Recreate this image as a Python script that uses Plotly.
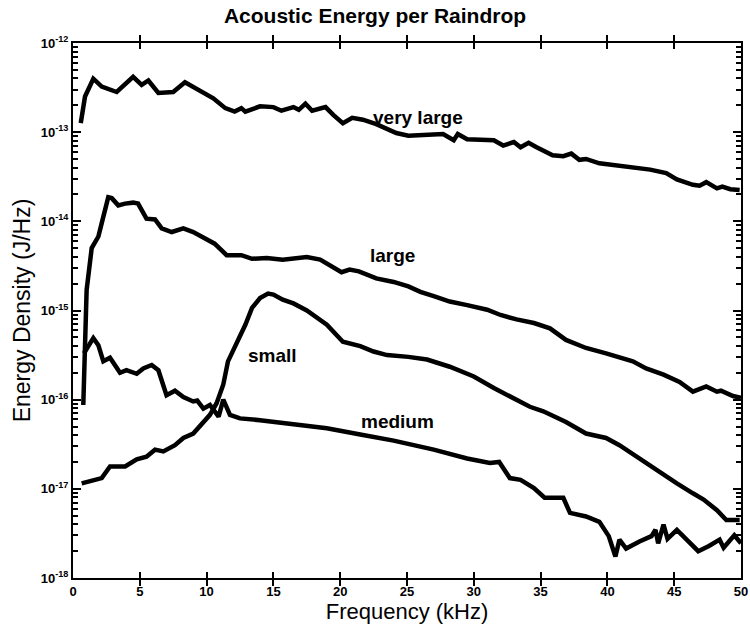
import numpy as np
import plotly.graph_objects as go

# Acoustic energy spectra per raindrop size class (frequency in kHz, energy density in J/Hz)
very_large_f = [0.58, 0.9, 1.52, 2.15, 3.27, 4.5, 5.14, 5.64, 6.39, 7.5, 8.38, 9.5, 10.5, 11.4,
                12.1, 12.6, 12.9, 14.0, 15.0, 15.6, 16.5, 16.9, 17.4, 17.9, 18.9, 19.5, 20.2,
                20.9, 21.7, 22.7, 23.5, 24.2, 25.1, 26.5, 27.7, 28.5, 28.8, 29.5, 31.5, 32.2,
                33.0, 33.5, 34.1, 34.7, 35.9, 36.7, 37.3, 37.9, 38.4, 39.4, 40.7, 41.9, 43.2,
                44.4, 45.2, 46.4, 46.9, 47.4, 48.2, 48.6, 49.2, 49.9]
very_large_e = [1.26e-13, 2.51e-13, 3.98e-13, 3.24e-13, 2.82e-13, 4.17e-13, 3.39e-13, 3.80e-13,
                2.75e-13, 2.82e-13, 3.63e-13, 2.95e-13, 2.40e-13, 1.86e-13, 1.70e-13, 1.86e-13,
                1.70e-13, 1.95e-13, 1.91e-13, 1.74e-13, 1.91e-13, 1.78e-13, 2.09e-13, 1.74e-13,
                1.91e-13, 1.55e-13, 1.26e-13, 1.45e-13, 1.38e-13, 1.23e-13, 1.10e-13, 9.77e-14,
                9.12e-14, 9.33e-14, 9.55e-14, 8.13e-14, 9.55e-14, 8.32e-14, 8.13e-14, 7.08e-14,
                7.76e-14, 6.76e-14, 7.59e-14, 6.76e-14, 5.50e-14, 5.37e-14, 5.75e-14, 4.90e-14,
                5.01e-14, 4.47e-14, 4.27e-14, 3.98e-14, 3.80e-14, 3.47e-14, 2.95e-14, 2.57e-14,
                2.51e-14, 2.75e-14, 2.34e-14, 2.45e-14, 2.29e-14, 2.24e-14]

large_f = [0.77, 0.9, 1.02, 1.4, 1.9, 2.15, 2.64, 2.9, 3.39, 3.9, 4.5, 4.87, 5.26, 5.5, 6.14,
           6.64, 7.39, 8.26, 9.0, 10.0, 10.6, 11.5, 12.0, 12.6, 13.4, 14.5, 15.7, 16.5, 17.5,
           18.5, 19.2, 20.1, 20.7, 21.4, 22.7, 24.0, 25.1, 26.0, 27.0, 28.2, 29.5, 31.0, 32.0,
           33.2, 34.5, 35.7, 36.9, 38.4, 39.9, 40.9, 41.9, 42.9, 44.2, 45.4, 46.4, 47.4, 48.2,
           48.5, 49.4, 50.0]
large_e = [8.71e-17, 7.76e-16, 1.70e-15, 5.01e-15, 6.76e-15, 9.55e-15, 1.86e-14, 1.82e-14,
           1.51e-14, 1.58e-14, 1.62e-14, 1.58e-14, 1.23e-14, 1.07e-14, 1.05e-14, 8.32e-15,
           7.59e-15, 8.32e-15, 7.59e-15, 6.17e-15, 5.62e-15, 4.17e-15, 4.17e-15, 4.17e-15,
           3.80e-15, 3.89e-15, 3.72e-15, 3.80e-15, 3.98e-15, 3.72e-15, 3.24e-15, 2.69e-15,
           2.88e-15, 2.75e-15, 2.29e-15, 2.09e-15, 1.86e-15, 1.62e-15, 1.45e-15, 1.26e-15,
           1.15e-15, 1.02e-15, 8.91e-16, 7.94e-16, 7.24e-16, 6.31e-16, 4.68e-16, 3.80e-16,
           3.31e-16, 3.02e-16, 2.69e-16, 2.24e-16, 1.91e-16, 1.58e-16, 1.23e-16, 1.41e-16,
           1.23e-16, 1.26e-16, 1.10e-16, 1.05e-16]

small_f = [0.65, 2.15, 2.77, 3.9, 4.77, 5.5, 6.14, 6.76, 7.63, 8.26, 9.0, 9.63, 10.25, 10.75,
           11.25, 11.6, 12.25, 12.9, 13.4, 14.0, 14.6, 15.0, 15.7, 16.5, 17.5, 18.5, 19.0, 20.2,
           21.5, 22.5, 23.5, 25.1, 26.5, 28.2, 30.0, 31.5, 33.0, 34.2, 35.2, 36.9, 38.4, 39.9,
           40.9, 42.4, 43.9, 45.2, 46.4, 47.2, 48.2, 48.9, 49.9]
small_e = [1.15e-17, 1.32e-17, 1.78e-17, 1.78e-17, 2.14e-17, 2.29e-17, 2.75e-17, 2.63e-17,
           3.09e-17, 3.72e-17, 4.17e-17, 5.25e-17, 6.76e-17, 9.12e-17, 1.48e-16, 2.69e-16,
           4.27e-16, 6.92e-16, 1.07e-15, 1.38e-15, 1.55e-15, 1.51e-15, 1.32e-15, 1.20e-15,
           1.00e-15, 7.76e-16, 6.92e-16, 4.47e-16, 3.98e-16, 3.47e-16, 3.16e-16, 3.02e-16,
           2.82e-16, 2.34e-16, 1.82e-16, 1.35e-16, 1.05e-16, 8.32e-17, 7.41e-17, 5.62e-17,
           4.17e-17, 3.72e-17, 3.09e-17, 2.19e-17, 1.51e-17, 1.15e-17, 8.91e-18, 7.59e-18,
           5.75e-18, 4.47e-18, 4.47e-18]

medium_f = [0.82, 1.52, 1.9, 2.27, 2.77, 3.52, 4.0, 4.77, 5.26, 5.89, 6.39, 7.0, 7.63, 8.26,
            9.0, 9.3, 9.76, 10.25, 10.9, 11.25, 11.75, 12.5, 14.0, 16.5, 19.0, 21.5, 24.0,
            27.0, 29.5, 31.2, 31.9, 32.7, 33.5, 34.5, 35.3, 36.7, 37.2, 38.4, 39.4, 40.1,
            40.6, 40.9, 41.4, 42.4, 43.3, 43.6, 43.8, 44.2, 44.5, 45.2, 45.9, 46.8, 47.6,
            48.4, 48.7, 49.5, 50.0]
medium_e = [3.31e-16, 4.90e-16, 4.07e-16, 2.69e-16, 2.95e-16, 2.00e-16, 2.14e-16, 1.95e-16,
            2.24e-16, 2.45e-16, 2.14e-16, 1.12e-16, 1.26e-16, 1.07e-16, 9.55e-17, 9.77e-17,
            7.94e-17, 8.71e-17, 6.46e-17, 1.00e-16, 6.76e-17, 6.17e-17, 5.89e-17, 5.37e-17,
            4.79e-17, 4.07e-17, 3.47e-17, 2.75e-17, 2.19e-17, 1.95e-17, 2.00e-17, 1.32e-17,
            1.26e-17, 1.02e-17, 7.94e-18, 7.94e-18, 5.37e-18, 4.90e-18, 4.27e-18, 2.95e-18,
            1.74e-18, 2.69e-18, 2.14e-18, 2.57e-18, 2.95e-18, 3.47e-18, 2.45e-18, 3.98e-18,
            2.75e-18, 3.47e-18, 2.69e-18, 2.00e-18, 2.29e-18, 2.69e-18, 2.19e-18, 3.02e-18,
            2.45e-18]

# Curve labels placed beside each spectrum
label_text = ["very large", "large", "small", "medium"]
label_f = [25.8, 23.9, 14.9, 24.3]
label_e = [1.45e-13, 4.17e-15, 3.16e-16, 5.62e-17]

x_ticks = [0, 5, 10, 15, 20, 25, 30, 35, 40, 45, 50]
y_exponents = [-18, -17, -16, -15, -14, -13, -12]
minor_steps = [2, 3, 4, 5, 6, 7, 8, 9]

FONT = "Liberation Sans, Arial, sans-serif"

fig = go.Figure()
for fx, ey in [(very_large_f, very_large_e), (large_f, large_e),
               (small_f, small_e), (medium_f, medium_e)]:
    fig.add_trace(go.Scatter(x=fx, y=ey, mode="lines",
                             line=dict(color="black", width=4.5),
                             showlegend=False, hoverinfo="skip"))

for t, fx, ey in zip(label_text, label_f, label_e):
    fig.add_annotation(x=fx, y=float(np.log10(ey)), text=t, showarrow=False,
                       font=dict(family=FONT, size=19, color="black", weight="bold"),
                       xanchor="center", yanchor="middle")

tick_font = dict(family=FONT, size=13, color="black", weight="bold")

# y ticks: a labelled tick at each decade plus short unlabelled ticks at 2..9 x decade
y_tickvals, y_ticktext = [], []
for e in y_exponents:
    y_tickvals.append(10.0 ** e)
    y_ticktext.append(f"10<sup>{e}</sup>")
    if e < y_exponents[-1]:
        for m in minor_steps:
            y_tickvals.append(m * 10.0 ** e)
            y_ticktext.append("")

fig.update_layout(
    xaxis=dict(range=[0, 50], tickvals=x_ticks, ticks="inside", ticklen=6, tickwidth=1.5,
               tickcolor="black", showline=True, linecolor="black", linewidth=2,
               mirror="allticks", showgrid=False, zeroline=False, automargin=False,
               tickfont=tick_font,
               title=dict(text="Frequency (kHz)",
                          font=dict(family=FONT, size=22, color="black"),
                          standoff=2)),
    yaxis=dict(type="log", range=[-18, -12], tickvals=y_tickvals, ticktext=y_ticktext,
               ticks="inside", ticklen=5, tickwidth=1.5, tickcolor="black",
               showline=True, linecolor="black", linewidth=2, mirror="allticks",
               showgrid=False, zeroline=False, automargin=False, tickfont=tick_font,
               title=dict(text="Energy Density (J/Hz)",
                          font=dict(family=FONT, size=23, color="black"),
                          standoff=4)),
    # overlay log axis carrying the longer decade ticks
    yaxis2=dict(type="log", range=[-18, -12], overlaying="y", anchor="x", side="left",
                tickvals=[10.0 ** e for e in y_exponents], ticks="inside", ticklen=8,
                tickwidth=1.8, tickcolor="black", showticklabels=False,
                showline=True, linecolor="black", linewidth=2, mirror="allticks",
                showgrid=False, zeroline=False, automargin=False),
)

fig.add_trace(go.Scatter(x=[0, 50], y=[1e-18, 1e-12], yaxis="y2", mode="lines",
                         line=dict(color="rgba(0,0,0,0)", width=0),
                         showlegend=False, hoverinfo="skip"))

fig.update_layout(
    width=750, height=632,
    margin=dict(l=73, r=9, t=43, b=54),
    paper_bgcolor="white", plot_bgcolor="white",
    title=dict(text="<b>Acoustic Energy per Raindrop</b>", x=0.5, xanchor="center",
               y=1 - 16 / 632, yanchor="middle",
               font=dict(family=FONT, size=21, color="black")),
)

fig.write_html("out.html")
